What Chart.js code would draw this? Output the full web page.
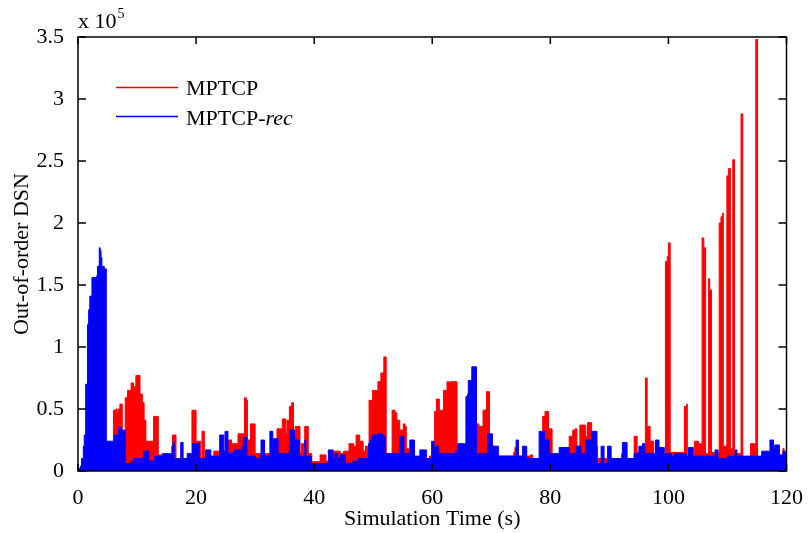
<!DOCTYPE html>
<html>
<head>
<meta charset="utf-8">
<script src="https://cdn.jsdelivr.net/npm/chart.js@4.4.1/dist/chart.umd.min.js"></script>
<style>
  html, body { margin: 0; padding: 0; background: #fff; }
</style>
</head>
<body>
<canvas id="dsnChart" width="809" height="533"></canvas>
<script>
// values are in units of 10^5 (the axis shows "x 10^5")
const mptcpTime = [0, 0.5, 1, 5.8, 6.0, 6.4, 6.6, 6.8, 7.1, 7.3, 7.5, 7.9, 8.0, 8.3, 8.4, 8.8, 9.0, 9.4, 9.8, 10.3,
  10.5, 10.9, 11.2, 11.5, 12.5, 12.8, 13.4, 13.6, 15.8, 16.0, 16.4, 16.6, 19.2, 19.3, 19.8, 20.0, 20.5, 20.8, 21.0, 21.2,
  21.4, 23.0, 23.6, 25.3, 25.5, 26.0, 27.1, 27.3, 28.1, 28.2, 28.5, 28.7, 29.2, 29.7, 30.0, 30.6, 33.6, 33.7, 34.5, 34.6,
  35.0, 35.2, 35.4, 35.6, 35.8, 36.2, 36.5, 36.8, 37.3, 37.6, 37.8, 38.2, 38.4, 38.7, 39.0, 39.3, 39.6, 41.0, 41.6, 42.0,
  43.0, 44.1, 44.4, 45.0, 45.7, 45.9, 46.4, 46.7, 47.1, 47.5, 47.7, 48.1, 48.3, 48.7, 49.2, 49.3, 49.8, 49.9, 50.3, 50.8,
  51.2, 51.3, 51.7, 51.8, 52.1, 52.2, 53.1, 53.2, 53.7, 54.0, 54.2, 54.5, 54.9, 55.1, 55.4, 55.6, 56.0, 57.0, 59.0, 59.5,
  60.3, 60.4, 60.7, 61.0, 61.2, 61.8, 61.9, 62.4, 62.5, 62.9, 63.1, 64.1, 64.2, 67.4, 67.5, 67.9, 68.0, 68.5, 68.6, 69.1,
  69.2, 69.5, 69.7, 70.3, 70.6, 73.8, 74.0, 74.3, 76.6, 77.0, 78.5, 78.7, 79.1, 79.5, 79.7, 80.1, 80.3, 83.2, 83.5, 83.8,
  84.2, 84.5, 85.0, 85.8, 86.0, 86.3, 86.8, 87.0, 88.0, 90.5, 91.0, 94.2, 94.5, 94.7, 96.0, 96.1, 96.3, 96.4, 96.7, 96.9,
  97.3, 97.5, 99.4, 99.5, 99.8, 100.0, 100.2, 100.3, 102.6, 102.7, 103.1, 103.2, 104.4, 104.7, 105.1, 105.4, 105.6, 105.7, 105.9, 106.0,
  106.2, 106.3, 106.7, 106.8, 107.0, 107.2, 107.3, 108.5, 108.6, 108.9, 109.2, 109.3, 109.8, 109.9, 110.2, 110.4, 110.5, 110.8, 110.9, 111.1,
  111.2, 112.2, 112.3, 112.5, 112.6, 113.8, 113.9, 114.7, 114.8, 115.0, 115.1, 119.2, 119.4, 119.6, 120];
const mptcpDsn = [0.02, 0.03, 0.1, 0.1, 0.49, 0.5, 0.47, 0.5, 0.54, 0.54, 0.1, 0.1, 0.59, 0.6, 0.65, 0.65, 0.71, 0.68, 0.77, 0.77,
  0.62, 0.55, 0.41, 0.24, 0.24, 0.44, 0.44, 0.13, 0.13, 0.29, 0.29, 0.1, 0.1, 0.49, 0.49, 0.24, 0.24, 0.1, 0.32, 0.32,
  0.1, 0.16, 0.16, 0.22, 0.25, 0.22, 0.3, 0.3, 0.27, 0.59, 0.57, 0.25, 0.38, 0.38, 0.14, 0.14, 0.2, 0.34, 0.34, 0.42,
  0.42, 0.3, 0.41, 0.41, 0.52, 0.55, 0.3, 0.36, 0.36, 0.15, 0.22, 0.22, 0.36, 0.36, 0.14, 0.14, 0.075, 0.13, 0.13, 0.08,
  0.16, 0.16, 0.14, 0.16, 0.16, 0.22, 0.22, 0.2, 0.29, 0.29, 0.24, 0.24, 0.16, 0.2, 0.2, 0.57, 0.57, 0.65, 0.65, 0.72,
  0.72, 0.79, 0.8, 0.92, 0.92, 0.14, 0.14, 0.49, 0.47, 0.41, 0.41, 0.33, 0.33, 0.38, 0.36, 0.18, 0.17, 0.1, 0.1, 0.12,
  0.12, 0.48, 0.58, 0.58, 0.49, 0.49, 0.65, 0.65, 0.72, 0.7, 0.72, 0.72, 0.14, 0.14, 0.38, 0.3, 0.36, 0.36, 0.49, 0.5,
  0.64, 0.64, 0.2, 0.2, 0.12, 0.15, 0.19, 0.12, 0.13, 0.1, 0.1, 0.44, 0.48, 0.48, 0.34, 0.34, 0.14, 0.28, 0.28, 0.33,
  0.34, 0.2, 0.37, 0.37, 0.28, 0.39, 0.39, 0.2, 0.1, 0.08, 0.1, 0.28, 0.28, 0.15, 0.15, 0.75, 0.75, 0.36, 0.36, 0.24,
  0.24, 0.12, 0.12, 1.69, 1.73, 1.84, 1.84, 0.15, 0.15, 0.52, 0.54, 0.12, 0.24, 0.24, 0.22, 0.22, 0.2, 1.88, 1.88, 1.8,
  1.8, 0.14, 0.14, 1.55, 1.46, 1.46, 0.15, 0.15, 2.0, 2.05, 2.08, 0.2, 0.2, 2.38, 2.44, 2.44, 0.18, 0.18, 2.51, 2.51,
  0.14, 0.14, 2.88, 2.88, 0.1, 0.1, 0.22, 0.22, 3.48, 3.48, 0.1, 0.1, 0.18, 0.05, 0.02];

const recTime = [0, 0.4, 0.6, 0.9, 1.06, 1.3, 1.6, 1.8, 2.0, 2.36, 3.0, 3.2, 3.3, 3.55, 3.6, 3.75, 3.9, 4.05, 4.45, 4.7,
  4.8, 6.0, 6.1, 6.8, 6.9, 7.2, 7.4, 7.5, 7.9, 8.0, 9.0, 9.5, 11.0, 11.1, 11.6, 12.0, 13.0, 14.3, 15.5, 15.9,
  16.1, 16.3, 17.4, 17.6, 17.8, 18.5, 19.2, 19.4, 19.9, 20.5, 20.6, 21.5, 21.6, 22.3, 22.5, 23.8, 24.0, 24.5, 24.7, 24.9,
  25.2, 25.4, 26.0, 26.5, 27.8, 28.0, 28.4, 28.6, 29.5, 30.0, 30.9, 31.0, 31.4, 31.6, 32.4, 32.5, 32.9, 33.0, 33.1, 33.7,
  33.9, 35.8, 35.9, 36.5, 36.7, 37.3, 37.5, 38.4, 38.6, 39.5, 41.8, 42.4, 42.9, 43.2, 43.5, 44.0, 44.4, 45.0, 45.3, 46.5,
  47.5, 49.0, 49.2, 49.5, 49.8, 50.4, 50.8, 51.4, 51.6, 52.1, 53.0, 54.4, 54.5, 54.9, 55.2, 56.2, 56.8, 57.0, 57.9, 58.7,
  59.0, 59.9, 60.2, 60.3, 61.0, 61.1, 64.0, 64.3, 65.5, 65.7, 66.0, 66.1, 66.6, 66.7, 67.4, 67.5, 69.3, 69.4, 70.0, 70.2,
  71.0, 71.2, 74.2, 74.4, 74.6, 75.3, 75.7, 76.0, 78.0, 78.1, 78.7, 79.0, 79.5, 79.8, 81.4, 81.5, 83.0, 83.2, 84.4, 85.0,
  85.2, 86.0, 86.9, 87.0, 87.7, 87.9, 88.5, 88.6, 88.9, 89.1, 89.7, 90.0, 90.3, 92.1, 92.2, 92.8, 93.0, 94.2, 95.0, 95.3,
  95.6, 96.0, 97.0, 97.8, 98.2, 98.4, 99.0, 99.3, 100.5, 101.0, 102.0, 103.0, 103.4, 104.0, 104.2, 106.0, 107.9, 108.2, 108.4, 110.0,
  111.3, 111.6, 113.0, 115.8, 116.9, 117.2, 117.6, 117.8, 118.0, 118.6, 118.8, 119.4, 119.8, 120];
const recDsn = [0.02, 0.04, 0.1, 0.2, 0.29, 0.7, 1.18, 1.3, 1.41, 1.56, 1.56, 1.58, 1.65, 1.66, 1.8, 1.78, 1.72, 1.65, 1.63, 1.63,
  0.24, 0.24, 0.29, 0.29, 0.35, 0.35, 0.2, 0.33, 0.33, 0.06, 0.08, 0.1, 0.1, 0.16, 0.16, 0.08, 0.12, 0.14, 0.14, 0.2,
  0.23, 0.1, 0.23, 0.23, 0.1, 0.14, 0.12, 0.22, 0.22, 0.22, 0.1, 0.1, 0.17, 0.17, 0.12, 0.12, 0.29, 0.29, 0.15, 0.32,
  0.32, 0.14, 0.15, 0.17, 0.2, 0.27, 0.27, 0.12, 0.12, 0.1, 0.13, 0.25, 0.25, 0.12, 0.13, 0.32, 0.32, 0.2, 0.26, 0.26,
  0.14, 0.2, 0.33, 0.33, 0.25, 0.25, 0.12, 0.25, 0.12, 0.06, 0.06, 0.17, 0.17, 0.1, 0.14, 0.1, 0.13, 0.13, 0.06, 0.08,
  0.1, 0.1, 0.22, 0.25, 0.29, 0.29, 0.3, 0.3, 0.28, 0.14, 0.14, 0.14, 0.28, 0.28, 0.14, 0.25, 0.25, 0.12, 0.17, 0.17,
  0.1, 0.24, 0.24, 0.2, 0.2, 0.14, 0.16, 0.22, 0.22, 0.6, 0.62, 0.73, 0.73, 0.84, 0.84, 0.14, 0.14, 0.3, 0.3, 0.2,
  0.2, 0.12, 0.25, 0.25, 0.12, 0.2, 0.2, 0.1, 0.1, 0.32, 0.32, 0.25, 0.25, 0.14, 0.12, 0.19, 0.19, 0.14, 0.2, 0.2,
  0.14, 0.25, 0.25, 0.32, 0.32, 0.06, 0.06, 0.2, 0.2, 0.06, 0.2, 0.2, 0.1, 0.14, 0.23, 0.23, 0.1, 0.14, 0.2, 0.2,
  0.22, 0.14, 0.14, 0.25, 0.25, 0.19, 0.19, 0.14, 0.12, 0.14, 0.14, 0.12, 0.19, 0.19, 0.12, 0.12, 0.17, 0.17, 0.1, 0.12,
  0.17, 0.12, 0.12, 0.16, 0.16, 0.25, 0.25, 0.18, 0.21, 0.21, 0.13, 0.16, 0.1, 0.05];

const xTicks = [0, 20, 40, 60, 80, 100, 120];
const yTicks = [0, 0.5, 1, 1.5, 2, 2.5, 3, 3.5];
const seriesNames = ['MPTCP', 'MPTCP-', 'rec'];

const serif = 'Liberation Serif, Times New Roman, serif';
const toPoints = (t, v) => t.map((x, i) => ({ x: x, y: v[i] }));

// box, inward ticks, legend and exponent like a matlab figure
const matlabBox = {
  id: 'matlabBox',
  afterDatasetsDraw(chart) {
    const { ctx, chartArea: a, scales: { x, y } } = chart;
    ctx.save();
    ctx.strokeStyle = '#000';
    ctx.lineWidth = 1.5;
    ctx.strokeRect(a.left, a.top, a.right - a.left, a.bottom - a.top);
    ctx.beginPath();
    xTicks.forEach(v => {
      const px = x.getPixelForValue(v);
      ctx.moveTo(px, a.bottom); ctx.lineTo(px, a.bottom - 7);
      ctx.moveTo(px, a.top); ctx.lineTo(px, a.top + 7);
    });
    yTicks.forEach(v => {
      const py = y.getPixelForValue(v);
      ctx.moveTo(a.left, py); ctx.lineTo(a.left + 8, py);
      ctx.moveTo(a.right, py); ctx.lineTo(a.right - 8, py);
    });
    ctx.stroke();

    // legend
    ctx.lineWidth = 1.5;
    ctx.strokeStyle = '#ff0000';
    ctx.beginPath(); ctx.moveTo(116, 87.5); ctx.lineTo(178, 87.5); ctx.stroke();
    ctx.strokeStyle = '#0000ff';
    ctx.beginPath(); ctx.moveTo(116, 116.5); ctx.lineTo(178, 116.5); ctx.stroke();
    ctx.fillStyle = '#000';
    ctx.textBaseline = 'alphabetic';
    ctx.textAlign = 'left';
    ctx.font = '22px ' + serif;
    ctx.fillText(seriesNames[0], 186, 95);
    ctx.fillText(seriesNames[1], 186, 125);
    const w = ctx.measureText(seriesNames[1]).width;
    ctx.font = 'italic 22px ' + serif;
    ctx.fillText(seriesNames[2], 186 + w, 125);

    // exponent
    ctx.font = '22px ' + serif;
    ctx.fillText('x 10', 78, 28);
    const w2 = ctx.measureText('x 10').width;
    ctx.font = '14px ' + serif;
    ctx.fillText('5', 78 + w2 + 1, 18);
    ctx.restore();
  }
};

const ctx = document.getElementById('dsnChart').getContext('2d');
const dsnChart = new Chart(ctx, {
  type: 'line',
  data: {
    datasets: [{
      label: 'MPTCP',
      data: toPoints(mptcpTime, mptcpDsn),
      borderColor: '#ff0000',
      backgroundColor: '#ff0000',
      borderWidth: 1,
      fill: 'origin',
      pointRadius: 0,
      stepped: 'before',
      order: 2
    }, {
      label: 'MPTCP-rec',
      data: toPoints(recTime, recDsn),
      borderColor: '#0000ff',
      backgroundColor: '#0000ff',
      borderWidth: 1,
      fill: 'origin',
      pointRadius: 0,
      stepped: 'before',
      order: 1
    }]
  },
  options: {
    responsive: false,
    animation: false,
    layout: { padding: { left: 0, right: 19, top: 37, bottom: 0 } },
    plugins: {
      legend: { display: false },
      title: { display: false },
      tooltip: { enabled: false }
    },
    scales: {
      x: {
        type: 'linear',
        min: 0,
        max: 120,
        afterFit: s => { s.height = 62; },
        afterBuildTicks: s => { s.ticks = xTicks.map(v => ({ value: v })); },
        ticks: { color: '#000', font: { family: serif, size: 22 }, padding: 6, maxRotation: 0, autoSkip: false,
          callback: v => String(v) },
        grid: { display: false },
        border: { display: false },
        title: { display: true, text: 'Simulation Time (s)', color: '#000',
          font: { family: serif, size: 22, lineHeight: 1.2 }, padding: { top: 0, bottom: 1 } }
      },
      y: {
        min: 0,
        max: 3.5,
        afterFit: s => { s.width = 78; },
        afterBuildTicks: s => { s.ticks = yTicks.map(v => ({ value: v })); },
        ticks: { color: '#000', font: { family: serif, size: 22 }, padding: 6, autoSkip: false,
          callback: v => String(v) },
        grid: { display: false },
        border: { display: false },
        title: { display: true, text: 'Out-of-order DSN', color: '#000',
          font: { family: serif, size: 22, lineHeight: 1.2 }, padding: { top: 9, bottom: 0 } }
      }
    }
  },
  plugins: [matlabBox]
});
</script>
</body>
</html>
